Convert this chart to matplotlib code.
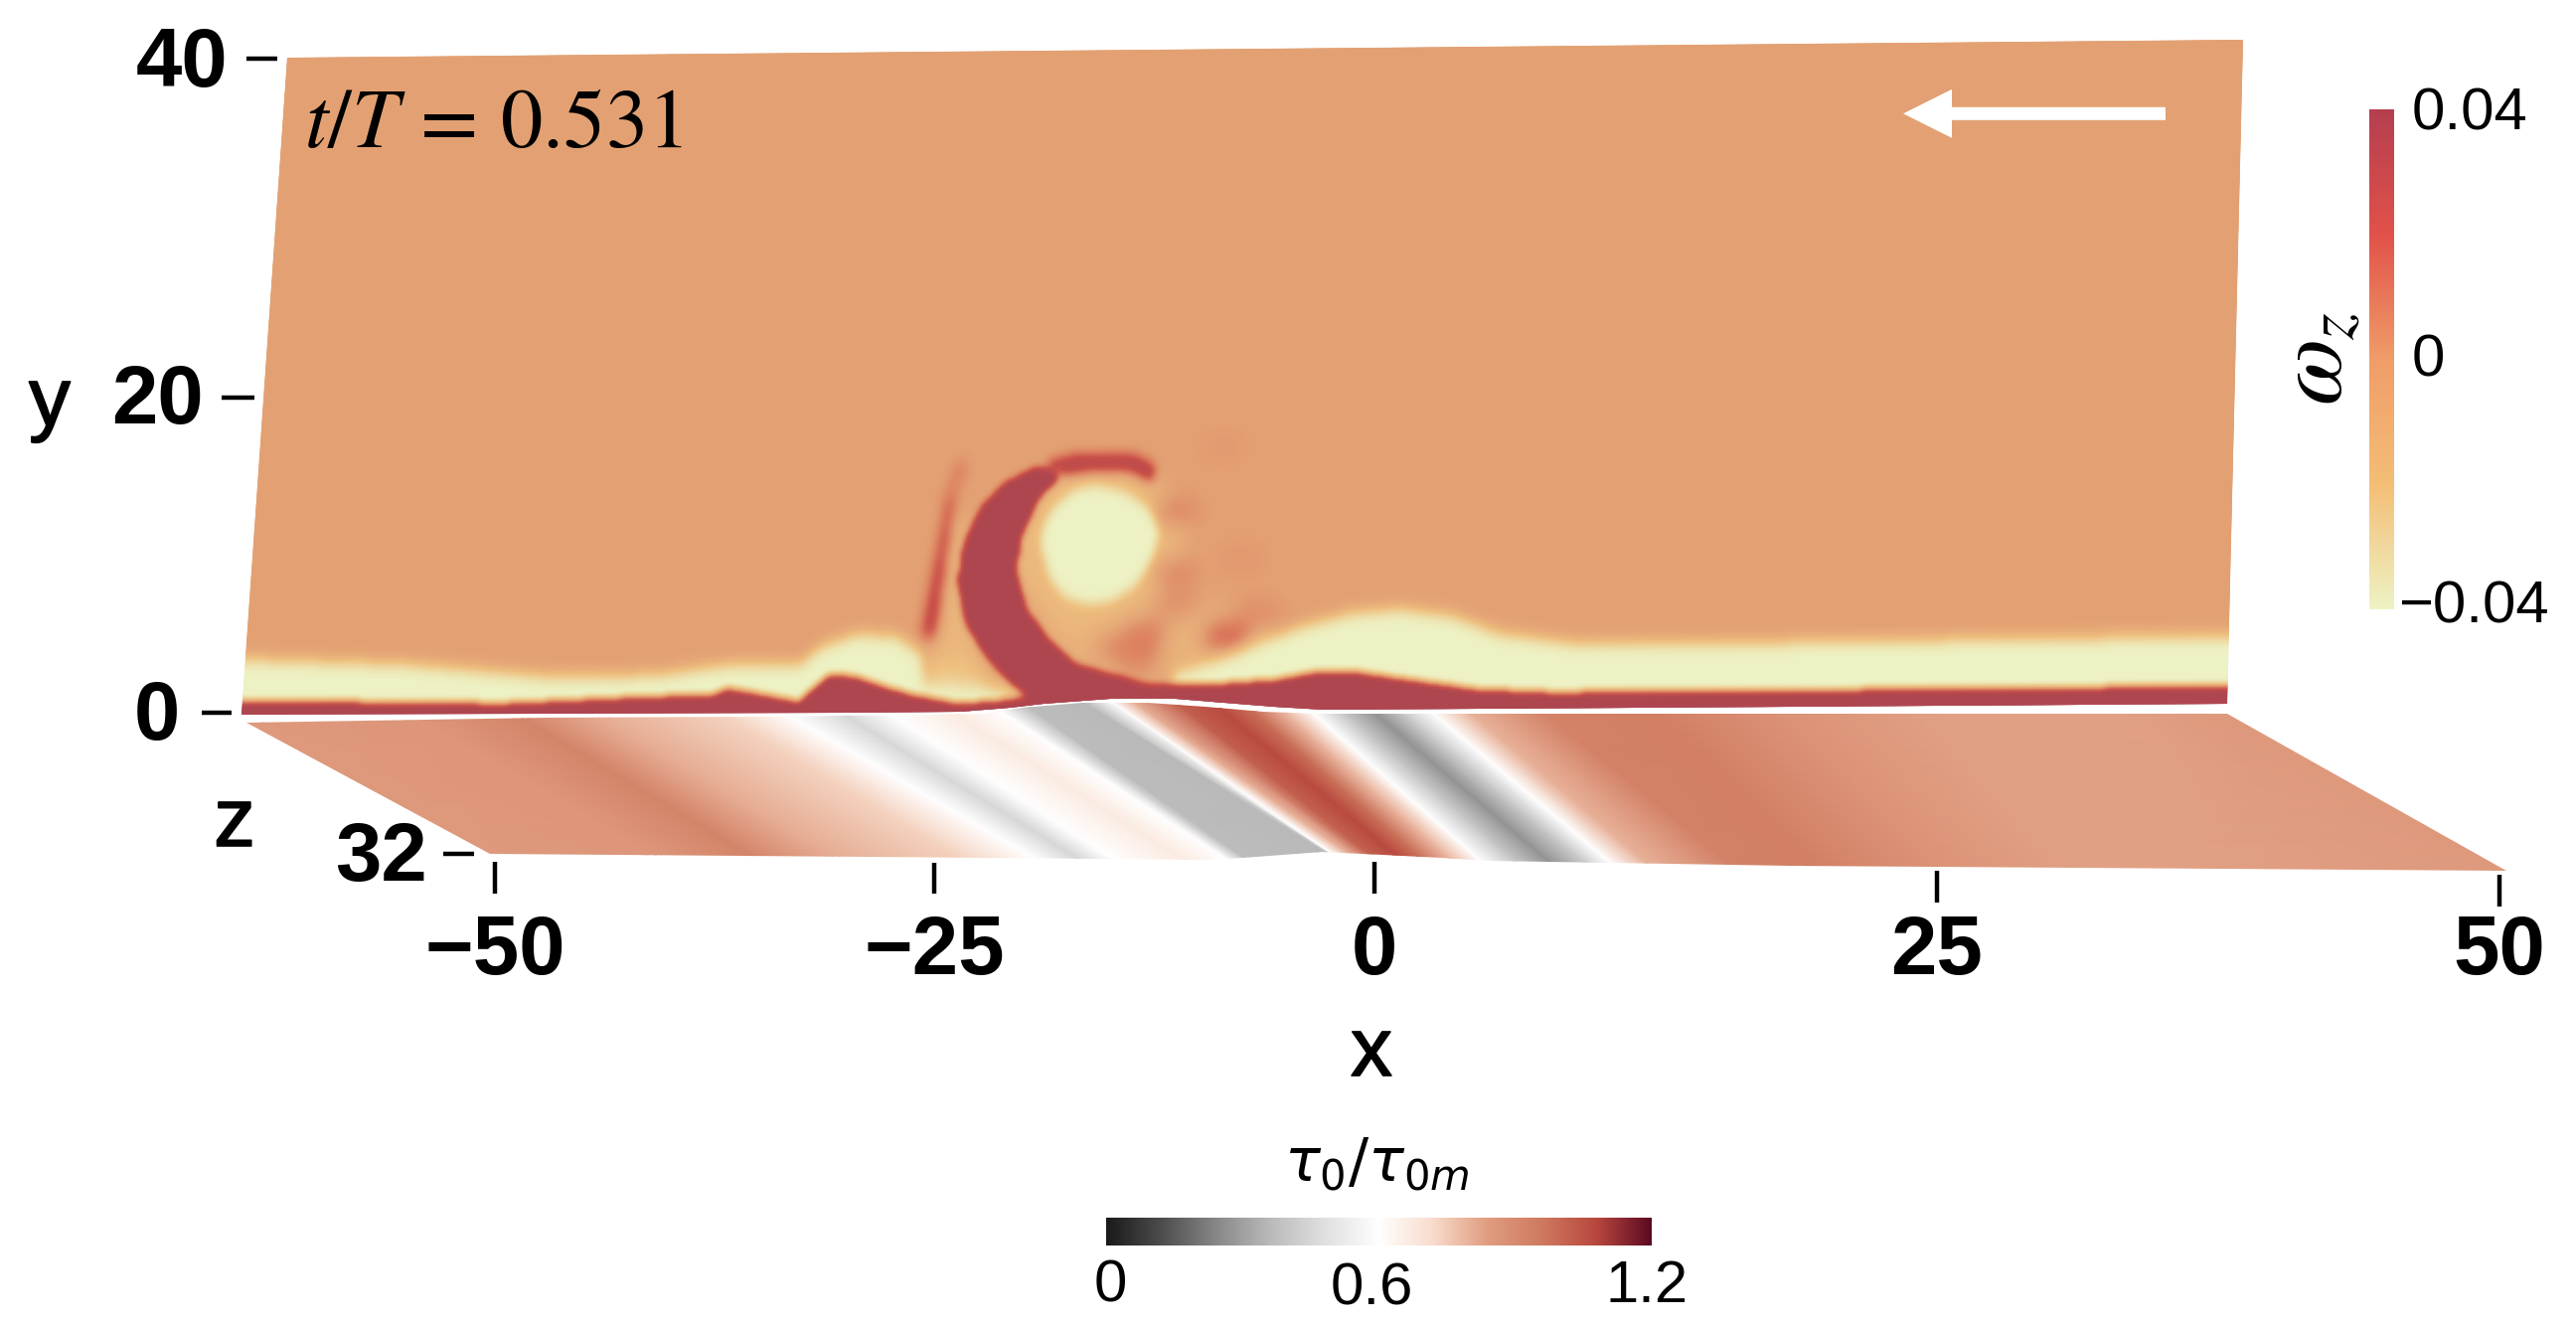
import matplotlib
matplotlib.use("Agg")
import matplotlib.pyplot as plt
import matplotlib.patheffects as pe
import numpy as np
from matplotlib.colors import LinearSegmentedColormap
from matplotlib.path import Path
from matplotlib.patches import Polygon

plt.rcParams['font.family'] = ['Liberation Sans', 'DejaVu Sans']
plt.rcParams['mathtext.fontset'] = 'stix'

# wall bed shape (x, height above y=0)
bed_x = [-50, -19.65, -13.8, -11.3, -9.65, -6.3, -3, -0.5, 2, 4.5, 27.9, 50]
bed_y = [0, 0, 0.06, 0.3, 0.55, 0.8, 0.8, 0.55, 0.3, 0.12, 0.24, 0.36]

# top of the red near-wall layer
red_x = [-50, -36.9, -29.2, -26.4, -25.6, -24.1, -22, -20.5, -19.2, -17.7, -16.4, -13.9, -11.3,
         -9.5, -6.3, -4.6, -0.5, 2, 4.2, 5.7, 8.2, 12.1, 15.9, 27.8, 50]
red_y = [0.9, 0.68, 1.09, 1.14, 1.56, 1.25, 0.76, 2.39, 2.27, 1.66, 1.19, 0.62, 0.85,
         1.33, 2.4, 1.8, 1.79, 2.0, 2.5, 2.5, 2.06, 1.39, 1.19, 1.27, 1.45]

# top of the pale layer, zero where there is none
pale_x = [-50, -42, -34.3, -29.2, -25.4, -22, -21, -19.2, -17.2, -15.9, -15.7, -13, -11.6, -11, -3.3,
          -3.2, -1.2, 0.6, 3.2, 5.7, 8.2, 10.8, 13.3, 17.2, 27.8, 50]
pale_y = [3.45, 3.13, 2.32, 2.42, 3.08, 3.07, 4.1, 4.88, 4.7, 3.65, 1.8, 1.64, 1.3, 0, 0,
          2.34, 3.13, 4.03, 5.24, 6.03, 6.27, 5.84, 4.75, 4.14, 4.2, 4.48]

# vortex pieces
core_x = [-7.4, -5.87, -4.63, -4.18, -4.5, -5.3, -6.4, -7.75, -8.9, -9.7, -10.0, -10.3, -9.8, -8.7]
core_y = [13.8, 13.3, 12.2, 10.8, 9.2, 7.6, 6.7, 6.5, 7.0, 8.2, 9.4, 10.6, 12.2, 13.5]
crescent_x = [-10.5, -12.2, -13.3, -14.1, -14.3, -13.8, -12.8, -11.6, -10.6, -6.1, -6.3, -8.1, -9.6,
              -10.7, -11.3, -11.2, -10.3, -9.2]
crescent_y = [15, 13.9, 12.5, 10.3, 7.9, 5.4, 3.6, 2.0, 1.0, 1.0, 2.4, 3, 4.6, 6.3, 8.5, 10.5, 13.1, 14.3]
arm_x = [-10.7, -8.55, -5.85, -4.6, -4.45, -5.8, -7.5, -9.2]
arm_y = [15, 15.7, 15.7, 15.0, 13.7, 14.5, 14.6, 14.3]
streak_x = [-15.05, -14.7, -15.2, -16.0]
streak_y = [12.8, 12.8, 4.6, 4.6]
streak_top_x = [-14.0, -14.6, -15.3, -14.8]
streak_top_y = [15.2, 15.2, 12.5, 12.5]
strip_x = [-14.7, -14, -13, -12.5, -15.6, -15.4, -15]
strip_y = [12, 12, 4, 1.5, 1.5, 4.5, 8]
low_strip_x = [-15.8, -13.2, -12.4, -11.6, -15.8]
low_strip_y = [3.2, 3.0, 2.2, 1.0, 1.0]
wake_x = [-10.5, -7, -3, 0.5, 2.5, 1, -3, -7, -9]
wake_y = [5.5, 5.8, 6.5, 6.2, 4, 2.2, 1.9, 2.4, 3.5]

# mottled patches in the wake
patch_x = [-3.4, -3.3, -0.6, -3.2, -4.8, -6, 0, 1, -5, -1.2, -10.5]
patch_y = [12.1, 8.5, 4.6, 6.5, 4.8, 4, 9.3, 5.9, 3.4, 16, 1.6]
patch_val = [0.009, 0.008, 0.022, 0.006, 0.013, 0.008, 0.004, 0.007, 0.012, 0.003, -0.025]

# wall shear stress along stripes: position on back edge, on front edge, value
stripe_back = [-50, -40.9, -35.8, -31.9, -25.5, -22.2, -19.4, -17.1, -13.8, -11.3, -9.7, -6.4, -5.1, -4.1,
               -2.1, -0.25, 1.25, 2.8, 4.1, 5.6, 7.2, 8.7, 10.1, 12, 15.8, 21, 27.8, 35.4, 43.8, 50]
stripe_front = [-50, -41.8, -37, -33, -26.7, -23, -20.8, -19.1, -15.6, -13.4, -12.4, -7.9, -7.7, -6.9,
                -5.9, -4.7, -3.6, -2.1, -0.8, 0.9, 2.6, 4.4, 5.6, 7.4, 11.5, 15.4, 21.8, 28.7, 35, 50]
stripe_tau = [0.85, 0.86, 0.92, 0.81, 0.74, 0.60, 0.45, 0.60, 0.67, 0.60, 0.37, 0.36, 0.60, 0.80,
              1.02, 1.07, 0.98, 0.78, 0.60, 0.40, 0.27, 0.42, 0.60, 0.80, 0.93, 0.94, 0.87, 0.83, 0.83, 0.85]

# floor outline
floor_back_x = [-50, -34.5, -23.5, -12.3, -9.8, -6.4, -3.1, -0.6, 1.9, 4.4, 27.8, 50]
floor_back_z = [0, -0.84, -0.84, -1.3, -2.65, -3.5, -3.45, -2.45, -1.47, -0.93, -0.47, -0.1]
floor_front_x = [-50, -25, -14.2, -11.7, -7.9, -2.4, -0.4, 14.4, 50]
floor_front_z = [32, 32, 32, 31.26, 30, 31.1, 31.7, 32.2, 32]

x_ticks = ["\u221250", "\u221225", "0", "25", "50"]
y_ticks = ["40", "20", "0"]
omega_ticks = ["0.04", "0", "\u22120.04"]
tau_ticks = ["0", "0.6", "1.2"]

field_colors = ["#edf1c3", "#eec07f", "#e7ab78", "#e3a173", "#dd7f5f", "#c95049", "#ae4650"]
field_stops = [0, 0.275, 0.425, 0.5, 0.65, 0.8125, 1]
bar_colors = ["#eef3c4", "#f4be76", "#f09d69", "#e2524a", "#b53f50"]
tau_colors = ["#1a1a1a", "#4d4d4d", "#878787", "#bababa", "#e0e0e0", "#ffffff",
              "#f8dccb", "#e09c80", "#cf7a5f", "#b8473e", "#5d0a22"]


def wall_xy(x, y):
    u = (np.asarray(x) + 50) / 100
    v = np.asarray(y) / 40
    px = (1 - v) * (243 + 1998 * u) + v * (289 + 1968 * u)
    py = (1 - v) * (719 - 5 * u) + v * (58 - 18 * u)
    return px, py


def floor_xy(x, z):
    u = (np.asarray(x) + 50) / 100
    t = np.asarray(z) / 32
    px = (1 - t) * (248 + 1994 * u) + t * (493 + 2029 * u)
    py = (1 - t) * (727 - 9 * u) + t * (859 + 17 * u)
    return px, py


def box(a, n, axis):
    # running mean over n cells (n odd), edges held
    pad = [(0, 0), (0, 0)]
    pad[axis] = (n, n)
    c = np.cumsum(np.pad(a, pad, mode="edge"), axis=axis)
    c = np.moveaxis(c, axis, 0)
    out = (c[n:] - c[:-n]) / n
    out = out[(n - 1) // 2:(n - 1) // 2 + a.shape[axis]]
    return np.moveaxis(out, 0, axis)


def smooth(a, nx, ny):
    for _ in range(2):
        a = box(a, nx, 1)
        a = box(a, ny, 0)
    return a


gx = np.linspace(-50, 50, 801)
gy = np.linspace(0, 40, 401)
GX, GY = np.meshgrid(gx, gy)
pts = np.column_stack([GX.ravel(), GY.ravel()])


def inside(px, py):
    return Path(np.column_stack([px, py])).contains_points(pts).reshape(GX.shape)


def rounded(px, py):
    # polygon with its corners rounded off
    return smooth(inside(px, py).astype(float), 5, 7) > 0.5


omega = np.zeros_like(GX)
omega[rounded(wake_x, wake_y)] = -0.010
omega[rounded(-7 + 1.5 * (np.array(core_x) + 7), 10.2 + 1.4 * (np.array(core_y) - 10.2))] = -0.014
for px_, py_, v_ in zip(patch_x, patch_y, patch_val):
    omega[((GX - px_) / 1.2) ** 2 + ((GY - py_) / 0.9) ** 2 < 1] = v_
omega[rounded(strip_x, strip_y)] = -0.012
omega[rounded(low_strip_x, low_strip_y)] = -0.022
omega = smooth(omega, 7, 11)
omega[inside(streak_top_x, streak_top_y)] = 0.014
omega[inside(streak_x, streak_y)] = 0.034
omega = smooth(omega, 3, 5)
omega[GY < np.interp(gx, pale_x, pale_y)[None, :]] = -0.04
omega = smooth(omega, 3, 7)
omega[rounded(core_x, core_y)] = -0.04
omega[rounded(arm_x, arm_y)] = 0.034
omega = smooth(omega, 3, 7)
omega[GY < np.interp(gx, red_x, red_y)[None, :]] = 0.04
omega[rounded(crescent_x, crescent_y)] = 0.04
omega = smooth(omega, 3, 5)

fig = plt.figure(figsize=(25.92, 13.36), dpi=100)
ax = fig.add_axes([0, 0, 1, 1])
ax.set_xlim(0, 2592)
ax.set_ylim(1336, 0)
ax.axis("off")

field_cmap = LinearSegmentedColormap.from_list("field", list(zip(field_stops, field_colors)))
tau_cmap = LinearSegmentedColormap.from_list("tau", tau_colors)
WX, WY = wall_xy(GX, GY)
wall = ax.pcolormesh(WX, WY, omega, cmap=field_cmap, vmin=-0.04, vmax=0.04, shading="gouraud")
low = wall_xy(bed_x, bed_y)
high = wall_xy([50, -50], [40, 40])
wall.set_clip_path(Polygon(np.column_stack([np.r_[low[0], high[0]], np.r_[low[1], high[1]]]), transform=ax.transData))

# floor
zrow = np.array([-4.0, 34.0])
back = np.array(stripe_back)
front = np.array(stripe_front)
t_row = zrow[:, None] / 32
u_row = (1 - t_row) * back + t_row * front
FX, FY = floor_xy(u_row, np.tile(zrow[:, None], (1, len(back))))
floor = ax.pcolormesh(FX, FY, np.tile(stripe_tau, (2, 1)), cmap=tau_cmap, vmin=0, vmax=1.2, shading="gouraud")
a = floor_xy(floor_back_x, floor_back_z)
b = floor_xy(floor_front_x[::-1], floor_front_z[::-1])
floor.set_clip_path(Polygon(np.column_stack([np.r_[a[0], b[0]], np.r_[a[1], b[1]]]), transform=ax.transData))

# ticks
tick_kw = dict(color="black", lw=3.2, solid_capstyle="butt")
bold = dict(fontsize=60, fontweight="bold", va="center")
for xp, y0, y1, lab in zip([498, 940, 1383, 1949, 2515], [867, 868, 867, 876, 880], [899, 899, 899, 908, 912], x_ticks):
    ax.plot([xp, xp], [y0, y1], **tick_kw)
    ax.text(xp, 958, lab, ha="center", **bold)
for yp, x0, x1, xt, yt, lab in zip([59, 400, 717], [248, 223, 203], [279, 256, 233], [229, 205, 181], [65, 404, 722], y_ticks):
    ax.plot([x0, x1], [yp, yp], **tick_kw)
    ax.text(xt, yt, lab, ha="right", **bold)
ax.plot([446, 477], [859, 859], **tick_kw)
ax.text(430, 864, "32", ha="right", **bold)

thick = [pe.withStroke(linewidth=1.2, foreground="black")]
ax.text(50, 406, "y", ha="center", va="center", fontsize=60, path_effects=thick)
ax.text(236, 829, "z", ha="center", va="center", fontsize=60, path_effects=thick)
ax.text(1380, 1060, "x", ha="center", va="center", fontsize=60, path_effects=thick)

ax.text(306, 148, r"$t/T\,=\,0.531$", ha="left", va="baseline", fontsize=61)
ax.arrow(2179, 114.3, -264, 0, width=13, head_width=49, head_length=49, length_includes_head=True, color="white", lw=0)

# vertical colour bar
cax = fig.add_axes([2384 / 2592, 1 - 613 / 1336, 25 / 2592, 503 / 1336])
cax.imshow(np.linspace(1, 0, 256)[:, None], aspect="auto",
           cmap=LinearSegmentedColormap.from_list("bar", bar_colors))
cax.axis("off")
ax.text(2427, 115, omega_ticks[0], ha="left", va="center", fontsize=43)
ax.text(2427, 363, omega_ticks[1], ha="left", va="center", fontsize=43)
ax.text(2413, 611, omega_ticks[2], ha="left", va="center", fontsize=43)
ax.text(2333, 361, r"$\omega_z$", rotation=90, ha="center", va="center", fontsize=70)

# horizontal colour bar
cax2 = fig.add_axes([1112.5 / 2592, 1 - 1253 / 1336, 548.5 / 2592, 28 / 1336])
cax2.imshow(np.linspace(0, 1, 256)[None, :], aspect="auto", cmap=tau_cmap)
cax2.axis("off")
for xp, yp, lab in zip([1117, 1380, 1657], [1294, 1297, 1294], tau_ticks):
    ax.text(xp, yp, lab, ha="center", va="center", fontsize=43)
ax.text(1385, 1172, r"$\tau_0/\tau_{0m}$", ha="center", va="center", fontsize=43, math_fontfamily="dejavusans")

fig.savefig("out.png", dpi=100)
